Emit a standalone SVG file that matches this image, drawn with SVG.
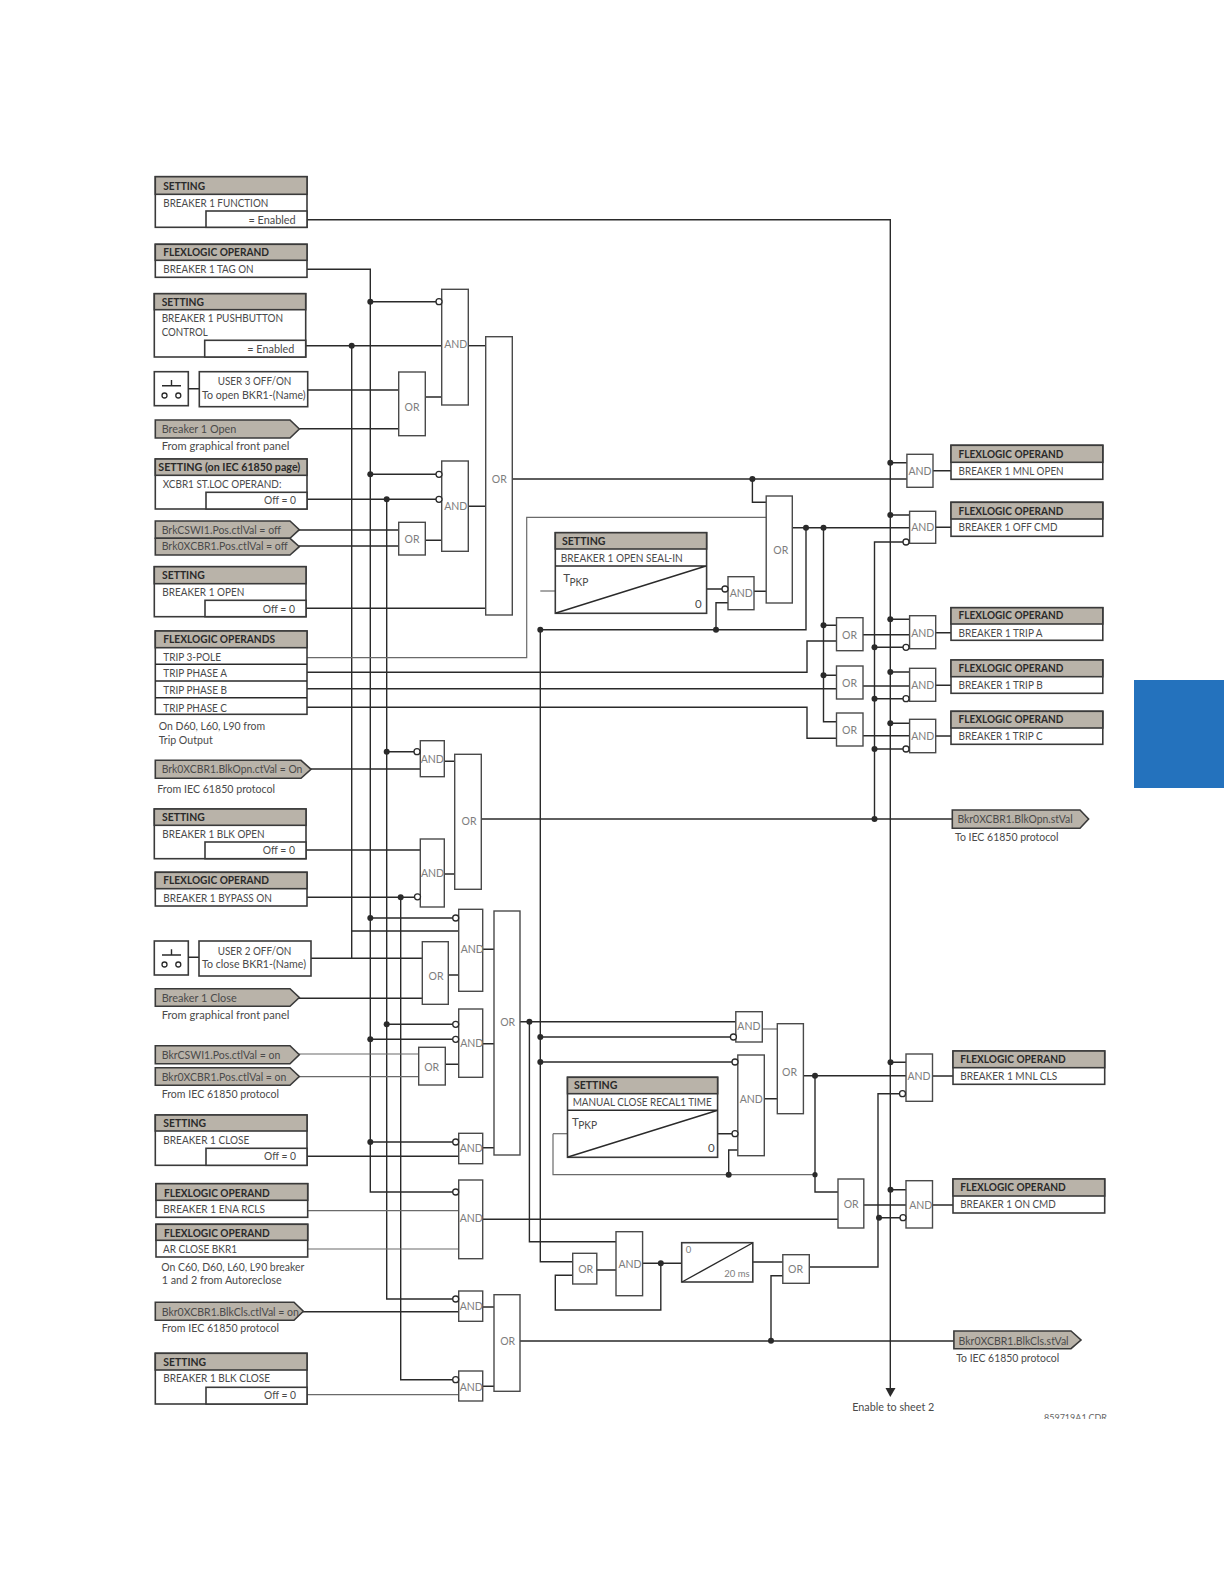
<svg xmlns="http://www.w3.org/2000/svg" width="1224" height="1584" viewBox="0 0 1224 1584">
<style>
text{font-family:Lato,"Liberation Sans",sans-serif;font-size:11.5px;fill:#4a4a4a}
.h{font-weight:700;fill:#2a2a2a}
.g{font-size:10.5px;fill:#7d7d7d;text-anchor:middle}
.b{fill:#fff;stroke:#3a3a3a;stroke-width:1.6}
.hd{fill:#b9b3a9;stroke:#3a3a3a;stroke-width:1.6}
.gate{fill:#fff;stroke:#4a4a4a;stroke-width:1.4}
.w{fill:none;stroke:#2a2a2a;stroke-width:1.4}
.l{fill:none;stroke:#6a6a6a;stroke-width:1.2}
.d{fill:#2a2a2a}
.c{fill:#fff;stroke:#2a2a2a;stroke-width:1.3}
</style>
<defs><clipPath id="cdr"><rect x="1030" y="1405" width="77" height="14"/></clipPath></defs>
<rect id="page-tab" x="1134" y="680" width="90" height="108" fill="#2472bd"/>

<g id="connectors">
<path class="w" d="M307 219.7H890.3V1390"/>
<path class="d" d="M885.5 1388H895.5L890.3 1397Z"/>
<path class="w" d="M307 269.3H370.3V1192H458.7"/>
<path class="w" d="M370.3 301.7H441.7M370.3 474.3H441.7M370.3 918H458.7M370.3 1039.3H458.7M370.3 1142H458.7"/>
<path class="w" d="M305.7 345.7H441.7M351.7 345.7V958.3M351.7 931H458.7"/>
<path class="w" d="M468.3 345.7H485.7"/>
<path class="w" d="M307.7 390H398.7M299.3 428.7H398.7M425.3 397H441.7"/>
<path class="w" d="M307 499.3H441.7M386.7 499.3V1299H458.7M386.7 751.7H420.3M386.7 1024.3H458.7"/>
<path class="w" d="M299 530H398.7M299 546H398.7M425.3 540.3H441.7M468.3 506.3H485.7M306 608.3H485.7"/>
<path class="w" d="M512.3 479H906.9M752.4 479V502.3H766.2"/>
<path class="l" d="M307 657.7H526.7V517.3H766.2"/>
<path class="w" d="M792.3 527.7H909.6M806 527.7V629.7H540.3M823.5 527.7V721.7H836.5M823.5 625.3H836.5M823.5 675.3H836.5"/>
<path class="w" d="M307 672.3H807V641H836.5M307 688.7H836.5M307 707.3H807V738.3H836.5"/>
<path class="w" d="M863 634.7H909.6M863 686H909.6M863 735.7H909.6"/>
<path class="w" d="M890.3 462.7H906.9M890.3 515H909.6M890.3 619.3H909.6M890.3 672H909.6M890.3 723.3H909.6"/>
<path class="w" d="M933 470.7H951M935.7 527.3H951M935.7 632.7H951M935.7 685.3H951M935.7 736H951"/>
<path class="w" d="M909.6 542H874.5V819M874.5 647.3H909.6M874.5 698.7H909.6M874.5 749H909.6"/>
<path class="w" d="M481.3 819H952.3"/>
<path class="w" d="M540.3 629.7V1261.7H572.7M540.3 1037H735.8M540.3 1062H737.8"/>
<path class="l" d="M540.3 591H555.3"/>
<path class="w" d="M706.6 589H728M716 629.7V602.7H728M754 591.3H766.2"/>
<path class="w" d="M311 769H420.3M444.3 761.3H454.7M306 850H420.3M307 897.3H420.3M400.7 897.3V1379.7H458.7M444.3 874H454.7"/>
<path class="w" d="M311 958.3H422.3M299 998.3H422.3M448.3 975H458.7M482.7 949.3H494"/>
<path class="l" d="M299 1054H418.7M299 1076.7H418.7"/>
<path class="w" d="M445.3 1064.3H458.7M482.7 1043.7H494M306 1156.3H458.7M482.7 1147.7H494"/>
<path class="l" d="M307 1210.7H458.7M307 1249H458.7"/>
<path class="w" d="M303 1311.7H458.7M482.7 1307H494M482.7 1386.3H494"/>
<path class="l" d="M307 1394.7H458.7"/>
<path class="w" d="M482.7 1219.3H838"/>
<path class="w" d="M520 1021.7H735.8M529.4 1021.7V1241.7H616"/>
<path class="l" d="M762.3 1029H777.3"/>
<path class="w" d="M764.3 1098.7H777.3M803.4 1075.7H906M815 1075.7V1192H838"/>
<path class="l" d="M553 1133.7H567.5"/>
<path class="l" d="M553 1133.7V1174.7H815"/>
<path class="w" d="M717.6 1133.7H737.8M728.7 1174.7V1150H737.8"/>
<path class="w" d="M932.5 1076H953M932.5 1205H953M890.5 1062.3H906M890.5 1189.7H906M863.8 1205H906"/>
<path class="w" d="M906 1093.7H878V1267H809.3M878 1217.7H906"/>
<path class="w" d="M596.8 1270H616M642.6 1263.3H681.7M660.8 1263.3V1310H555.3V1275.3H572.7M752.8 1262H782.8"/>
<path class="w" d="M520 1341H953.9M771 1340.7V1275.7H782.8"/>
<g>
<circle class="d" cx="370.3" cy="301.7" r="3"/><circle class="d" cx="351.7" cy="345.7" r="3"/><circle class="d" cx="370.3" cy="474.3" r="3"/><circle class="d" cx="386.7" cy="499.3" r="3"/>
<circle class="d" cx="386.7" cy="751.7" r="3"/><circle class="d" cx="400.7" cy="897.3" r="3"/><circle class="d" cx="370.3" cy="918" r="3"/><circle class="d" cx="386.7" cy="1024.3" r="3"/><circle class="d" cx="370.3" cy="1039.3" r="3"/><circle class="d" cx="370.3" cy="1142" r="3"/>
<circle class="d" cx="752.4" cy="479" r="3"/><circle class="d" cx="806" cy="527.7" r="3"/><circle class="d" cx="823.5" cy="527.7" r="3"/><circle class="d" cx="540.3" cy="629.7" r="3"/><circle class="d" cx="716" cy="629.7" r="3"/><circle class="d" cx="823.5" cy="625.3" r="3"/><circle class="d" cx="823.5" cy="675.3" r="3"/>
<circle class="d" cx="890.3" cy="462.7" r="3"/><circle class="d" cx="890.3" cy="515" r="3"/><circle class="d" cx="890.3" cy="619.3" r="3"/><circle class="d" cx="890.3" cy="672" r="3"/><circle class="d" cx="890.3" cy="723.3" r="3"/>
<circle class="d" cx="874.5" cy="647.3" r="3"/><circle class="d" cx="874.5" cy="698.7" r="3"/><circle class="d" cx="874.5" cy="749" r="3"/><circle class="d" cx="874.5" cy="819" r="3"/>
<circle class="d" cx="529.4" cy="1021.7" r="3"/><circle class="d" cx="540.3" cy="1037" r="3"/><circle class="d" cx="540.3" cy="1062" r="3"/><circle class="d" cx="815" cy="1075.7" r="3"/><circle class="d" cx="815" cy="1174.7" r="2.6"/><circle class="d" cx="728.7" cy="1174.7" r="3"/>
<circle class="d" cx="890.5" cy="1062.3" r="3"/><circle class="d" cx="890.5" cy="1189.7" r="3"/><circle class="d" cx="879" cy="1217.7" r="3"/><circle class="d" cx="660.8" cy="1263.3" r="3"/><circle class="d" cx="771" cy="1340.7" r="3"/>
</g>
</g>

<g id="setting-function"><rect class="b" x="155.3" y="176.7" width="151.7" height="50.6"/><rect class="hd" x="155.3" y="176.7" width="151.7" height="17.6"/><rect class="b" x="206" y="211" width="101" height="16.3"/>
<text class="h" x="163.3" y="190" textLength="41.7" lengthAdjust="spacingAndGlyphs">SETTING</text><text x="163.3" y="206.7" textLength="105" lengthAdjust="spacingAndGlyphs">BREAKER 1 FUNCTION</text><text x="248.4" y="224" textLength="47.3" lengthAdjust="spacingAndGlyphs">= Enabled</text></g>

<g id="flex-tag-on"><rect class="b" x="155.3" y="244.3" width="151.7" height="33"/><rect class="hd" x="155.3" y="244.3" width="151.7" height="16"/>
<text class="h" x="163.3" y="256" textLength="105.7" lengthAdjust="spacingAndGlyphs">FLEXLOGIC OPERAND</text><text x="163.3" y="273.3" textLength="90.3" lengthAdjust="spacingAndGlyphs">BREAKER 1 TAG ON</text></g>

<g id="setting-pushbutton"><rect class="b" x="154.3" y="293.7" width="151.4" height="63.3"/><rect class="hd" x="154.3" y="293.7" width="151.4" height="16"/><rect class="b" x="204.7" y="340.3" width="101" height="16.7"/>
<text class="h" x="161.7" y="305.7" textLength="42.3" lengthAdjust="spacingAndGlyphs">SETTING</text><text x="161.7" y="322.3" textLength="121.3" lengthAdjust="spacingAndGlyphs">BREAKER 1 PUSHBUTTON</text><text x="161.7" y="336" textLength="46" lengthAdjust="spacingAndGlyphs">CONTROL</text><text x="247.3" y="352.7" textLength="47" lengthAdjust="spacingAndGlyphs">= Enabled</text></g>

<g id="button-user3"><rect class="b" x="154.3" y="371.7" width="34" height="34"/><path class="w" d="M162 385.8H181M171.5 380V385.8M188.3 388.7H199.3"/><circle class="c" cx="164.5" cy="395.5" r="2.5"/><circle class="c" cx="178.3" cy="395.5" r="2.5"/>
<rect class="b" x="199.3" y="371.7" width="108.4" height="35"/><text x="217.7" y="385.3" textLength="73.7" lengthAdjust="spacingAndGlyphs">USER 3 OFF/ON</text><text x="202" y="399.3" textLength="103.7" lengthAdjust="spacingAndGlyphs">To open BKR1-(Name)</text></g>

<g id="breaker-open"><path class="hd" d="M155.3 420H290L299.3 429L290 438H155.3Z"/><text x="161.7" y="432.7" textLength="74.7" lengthAdjust="spacingAndGlyphs">Breaker 1 Open</text><text x="161.7" y="450" textLength="127.7" lengthAdjust="spacingAndGlyphs">From graphical front panel</text></g>

<g id="setting-iec"><rect class="b" x="155.3" y="459" width="151.7" height="50"/><rect class="hd" x="155.3" y="459" width="151.7" height="16.3"/><rect class="b" x="206" y="492.3" width="101" height="16.7"/>
<text class="h" x="158.3" y="471" textLength="142" lengthAdjust="spacingAndGlyphs">SETTING (on IEC 61850 page)</text><text x="162.7" y="488.3" textLength="118.7" lengthAdjust="spacingAndGlyphs">XCBR1 ST.LOC OPERAND:</text><text x="264" y="504.3" textLength="32" lengthAdjust="spacingAndGlyphs">Off = 0</text></g>

<g id="brkcswi-off"><path class="hd" d="M155.3 521H290L299.3 529.7L290 538.3H155.3Z"/><text x="161.7" y="534" textLength="119.3" lengthAdjust="spacingAndGlyphs">BrkCSWI1.Pos.ctlVal = off</text></g>
<g id="brkxcbr-off"><path class="hd" d="M155.3 538.3H290L299.3 546.7L290 555H155.3Z"/><text x="161.7" y="550" textLength="126" lengthAdjust="spacingAndGlyphs">Brk0XCBR1.Pos.ctlVal = off</text></g>

<g id="setting-open"><rect class="b" x="154.3" y="566.7" width="151.7" height="50"/><rect class="hd" x="154.3" y="566.7" width="151.7" height="17"/><rect class="b" x="205" y="600.3" width="101" height="16.4"/>
<text class="h" x="162" y="579" textLength="42.7" lengthAdjust="spacingAndGlyphs">SETTING</text><text x="162.3" y="596" textLength="82" lengthAdjust="spacingAndGlyphs">BREAKER 1 OPEN</text><text x="262.7" y="612.7" textLength="32.3" lengthAdjust="spacingAndGlyphs">Off = 0</text></g>

<g id="flex-trip"><rect class="b" x="155.3" y="631" width="151.7" height="83.3"/><rect class="hd" x="155.3" y="631" width="151.7" height="16.7"/><path class="w" d="M155.3 664.3H307M155.3 681H307M155.3 697.7H307"/>
<text class="h" x="163.3" y="642.7" textLength="111.7" lengthAdjust="spacingAndGlyphs">FLEXLOGIC OPERANDS</text><text x="163.3" y="661.3" textLength="57.7" lengthAdjust="spacingAndGlyphs">TRIP 3-POLE</text><text x="163.3" y="677.3" textLength="63.7" lengthAdjust="spacingAndGlyphs">TRIP PHASE A</text><text x="163.3" y="694" textLength="63.7" lengthAdjust="spacingAndGlyphs">TRIP PHASE B</text><text x="163.3" y="711.7" textLength="63.7" lengthAdjust="spacingAndGlyphs">TRIP PHASE C</text>
<text x="158.7" y="730" textLength="106.3" lengthAdjust="spacingAndGlyphs">On D60, L60, L90 from</text><text x="158.7" y="744" textLength="54" lengthAdjust="spacingAndGlyphs">Trip Output</text></g>

<g id="blkopn-ctval"><path class="hd" d="M155.3 760.3H301L311 769.3L301 778.3H155.3Z"/><text x="161.7" y="773.3" textLength="140.7" lengthAdjust="spacingAndGlyphs">Brk0XCBR1.BlkOpn.ctVal = On</text><text x="157.3" y="792.7" textLength="117.7" lengthAdjust="spacingAndGlyphs">From IEC 61850 protocol</text></g>

<g id="setting-blk-open"><rect class="b" x="154.3" y="809" width="151.7" height="49.7"/><rect class="hd" x="154.3" y="809" width="151.7" height="16.3"/><rect class="b" x="205" y="842" width="101" height="16.7"/>
<text class="h" x="162" y="820.7" textLength="42.7" lengthAdjust="spacingAndGlyphs">SETTING</text><text x="162.3" y="837.7" textLength="102.3" lengthAdjust="spacingAndGlyphs">BREAKER 1 BLK OPEN</text><text x="262.7" y="854.3" textLength="32.3" lengthAdjust="spacingAndGlyphs">Off = 0</text></g>

<g id="flex-bypass"><rect class="b" x="155.3" y="872.3" width="151.7" height="33.7"/><rect class="hd" x="155.3" y="872.3" width="151.7" height="16.4"/>
<text class="h" x="163.3" y="884.3" textLength="105.7" lengthAdjust="spacingAndGlyphs">FLEXLOGIC OPERAND</text><text x="163.3" y="901.7" textLength="108.7" lengthAdjust="spacingAndGlyphs">BREAKER 1 BYPASS ON</text></g>

<g id="button-user2"><rect class="b" x="154.3" y="941" width="34" height="34"/><path class="w" d="M162 955H181M171.5 949.3V955M188.3 957.3H199"/><circle class="c" cx="164.5" cy="964.5" r="2.5"/><circle class="c" cx="178.3" cy="964.5" r="2.5"/>
<rect class="b" x="199" y="941" width="112" height="35"/><text x="217.7" y="954.7" textLength="73.7" lengthAdjust="spacingAndGlyphs">USER 2 OFF/ON</text><text x="202" y="967.7" textLength="104" lengthAdjust="spacingAndGlyphs">To close BKR1-(Name)</text></g>

<g id="breaker-close"><path class="hd" d="M155.3 988.7H290L299.3 997.5L290 1006.3H155.3Z"/><text x="161.7" y="1002.3" textLength="75" lengthAdjust="spacingAndGlyphs">Breaker 1 Close</text><text x="161.7" y="1019.3" textLength="127.7" lengthAdjust="spacingAndGlyphs">From graphical front panel</text></g>

<g id="bkrcswi-on"><path class="hd" d="M155.3 1045.7H290L299.3 1054.7L290 1063.7H155.3Z"/><text x="161.7" y="1058.7" textLength="118.7" lengthAdjust="spacingAndGlyphs">BkrCSWI1.Pos.ctlVal = on</text></g>
<g id="bkrxcbr-on"><path class="hd" d="M155.3 1067.7H290L299.3 1076.5L290 1085.3H155.3Z"/><text x="161.7" y="1080.7" textLength="124.7" lengthAdjust="spacingAndGlyphs">Bkr0XCBR1.Pos.ctlVal = on</text><text x="161.7" y="1098.3" textLength="117.3" lengthAdjust="spacingAndGlyphs">From IEC 61850 protocol</text></g>

<g id="setting-close"><rect class="b" x="155.3" y="1115" width="151.7" height="50.3"/><rect class="hd" x="155.3" y="1115" width="151.7" height="16"/><rect class="b" x="206" y="1148.3" width="101" height="17"/>
<text class="h" x="163.3" y="1127" textLength="42.7" lengthAdjust="spacingAndGlyphs">SETTING</text><text x="163.3" y="1144" textLength="86" lengthAdjust="spacingAndGlyphs">BREAKER 1 CLOSE</text><text x="264" y="1160" textLength="32" lengthAdjust="spacingAndGlyphs">Off = 0</text></g>

<g id="flex-ena-rcls"><rect class="b" x="156" y="1183.7" width="151.7" height="33.6"/><rect class="hd" x="156" y="1183.7" width="151.7" height="16.6"/>
<text class="h" x="164" y="1196.7" textLength="105.7" lengthAdjust="spacingAndGlyphs">FLEXLOGIC OPERAND</text><text x="163.3" y="1212.7" textLength="101.7" lengthAdjust="spacingAndGlyphs">BREAKER 1 ENA RCLS</text></g>

<g id="flex-ar-close"><rect class="b" x="156" y="1224.3" width="151.7" height="32.7"/><rect class="hd" x="156" y="1224.3" width="151.7" height="16"/>
<text class="h" x="164" y="1236.7" textLength="105.7" lengthAdjust="spacingAndGlyphs">FLEXLOGIC OPERAND</text><text x="163" y="1252.7" textLength="74" lengthAdjust="spacingAndGlyphs">AR CLOSE BKR1</text>
<text x="161.3" y="1270.7" textLength="143" lengthAdjust="spacingAndGlyphs">On C60, D60, L60, L90 breaker</text><text x="161.7" y="1284" textLength="120" lengthAdjust="spacingAndGlyphs">1 and 2 from Autoreclose</text></g>

<g id="blkcls-ctlval"><path class="hd" d="M155.3 1302.3H294L303.3 1311.3L294 1320.3H155.3Z"/><text x="161.7" y="1315.7" textLength="137.3" lengthAdjust="spacingAndGlyphs">Bkr0XCBR1.BlkCls.ctlVal = on</text><text x="161.7" y="1332.3" textLength="117.3" lengthAdjust="spacingAndGlyphs">From IEC 61850 protocol</text></g>

<g id="setting-blk-close"><rect class="b" x="155.3" y="1353.3" width="151.7" height="50.7"/><rect class="hd" x="155.3" y="1353.3" width="151.7" height="16.7"/><rect class="b" x="206" y="1387.3" width="101" height="16.7"/>
<text class="h" x="163.3" y="1366" textLength="42.7" lengthAdjust="spacingAndGlyphs">SETTING</text><text x="163.3" y="1382.3" textLength="106.7" lengthAdjust="spacingAndGlyphs">BREAKER 1 BLK CLOSE</text><text x="264" y="1399.3" textLength="32" lengthAdjust="spacingAndGlyphs">Off = 0</text></g>

<g id="gate-and-1"><rect class="gate" x="441.7" y="289.3" width="26.6" height="115.7"/><text class="g" x="455.7" y="348">AND</text><circle class="c" cx="439" cy="301.7" r="3"/></g>
<g id="gate-or-1"><rect class="gate" x="398.7" y="372" width="26.6" height="63.7"/><text class="g" x="412" y="410.7">OR</text></g>
<g id="gate-and-2"><rect class="gate" x="441.7" y="461" width="26.6" height="90.3"/><text class="g" x="455.7" y="510">AND</text><circle class="c" cx="439" cy="474.3" r="3"/><circle class="c" cx="439" cy="499.3" r="3"/></g>
<g id="gate-or-2"><rect class="gate" x="398.7" y="522.3" width="26.6" height="32.7"/><text class="g" x="412" y="542.7">OR</text></g>
<g id="gate-or-big-open"><rect class="gate" x="485.7" y="336.7" width="26.6" height="278.3"/><text class="g" x="499.3" y="482.7">OR</text></g>
<g id="gate-and-3"><rect class="gate" x="420.3" y="740.7" width="24" height="36"/><text class="g" x="432.3" y="763.3">AND</text><circle class="c" cx="417" cy="751.7" r="3"/></g>
<g id="gate-or-3"><rect class="gate" x="454.7" y="754.3" width="26.6" height="135"/><text class="g" x="469" y="825.3">OR</text></g>
<g id="gate-and-4"><rect class="gate" x="420.3" y="839" width="24" height="68"/><text class="g" x="432.5" y="876.7">AND</text><circle class="c" cx="417.5" cy="896.8" r="3"/></g>
<g id="gate-and-5"><rect class="gate" x="458.7" y="909.3" width="24" height="82"/><text class="g" x="472.3" y="952.7">AND</text><circle class="c" cx="455.7" cy="918" r="3"/></g>
<g id="gate-or-close"><rect class="gate" x="422.3" y="941.7" width="26" height="62.6"/><text class="g" x="436" y="980">OR</text></g>
<g id="gate-or-4"><rect class="gate" x="494" y="911" width="26" height="244"/><text class="g" x="507.7" y="1026">OR</text></g>
<g id="gate-and-6"><rect class="gate" x="458.7" y="1009" width="24" height="68.3"/><text class="g" x="471.7" y="1046.7">AND</text><circle class="c" cx="455.7" cy="1024.3" r="3"/><circle class="c" cx="455.7" cy="1039.3" r="3"/></g>
<g id="gate-or-5"><rect class="gate" x="418.7" y="1047.3" width="26.6" height="37.7"/><text class="g" x="431.7" y="1071.3">OR</text></g>
<g id="gate-and-7"><rect class="gate" x="458.7" y="1133.3" width="24" height="30.4"/><text class="g" x="471.3" y="1152">AND</text><circle class="c" cx="455.7" cy="1142" r="3"/></g>
<g id="gate-and-8"><rect class="gate" x="458.7" y="1180" width="24" height="78.7"/><text class="g" x="471.3" y="1222.3">AND</text><circle class="c" cx="455.7" cy="1192" r="3"/></g>
<g id="gate-and-9"><rect class="gate" x="458.7" y="1291" width="24" height="30.3"/><text class="g" x="471.3" y="1310">AND</text><circle class="c" cx="455.7" cy="1299" r="3"/></g>
<g id="gate-and-10"><rect class="gate" x="458.7" y="1371" width="24" height="30"/><text class="g" x="471.3" y="1390.7">AND</text><circle class="c" cx="455.7" cy="1379.7" r="3"/></g>
<g id="gate-or-6"><rect class="gate" x="494" y="1294.7" width="26" height="96.6"/><text class="g" x="507.7" y="1345">OR</text></g>

<g id="timer-seal-in"><rect class="b" x="555.3" y="532.7" width="151.3" height="80.6"/><rect class="hd" x="555.3" y="532.7" width="151.3" height="16.3"/><path class="w" d="M555.3 566H706.6M556 613L706 566"/>
<text class="h" x="562" y="545" textLength="43.5" lengthAdjust="spacingAndGlyphs">SETTING</text><text x="560.8" y="561.7" textLength="122" lengthAdjust="spacingAndGlyphs">BREAKER 1 OPEN SEAL-IN</text><text x="563.2" y="581.7" font-size="11">T</text><text x="569.5" y="585.5" textLength="19" lengthAdjust="spacingAndGlyphs">PKP</text><text x="695" y="607.7">0</text></g>
<g id="gate-and-seal"><rect class="gate" x="728" y="576.7" width="26" height="33"/><text class="g" x="741.3" y="597.3">AND</text><circle class="c" cx="725" cy="589" r="3"/></g>
<g id="gate-or-seal"><rect class="gate" x="766.2" y="496" width="26.1" height="107"/><text class="g" x="780.8" y="554.3">OR</text></g>
<g id="gate-or-a"><rect class="gate" x="836.5" y="617.7" width="26.5" height="33"/><text class="g" x="849.6" y="638.7">OR</text></g>
<g id="gate-or-b"><rect class="gate" x="836.5" y="666" width="26.5" height="33"/><text class="g" x="849.6" y="687.3">OR</text></g>
<g id="gate-or-c"><rect class="gate" x="836.5" y="713" width="26.5" height="33"/><text class="g" x="849.6" y="734.3">OR</text></g>
<g id="gate-and-mnl-open"><rect class="gate" x="906.9" y="454.3" width="26.1" height="33"/><text class="g" x="920" y="474.7">AND</text></g>
<g id="gate-and-off-cmd"><rect class="gate" x="909.6" y="511.3" width="26.1" height="32"/><text class="g" x="922.7" y="531.3">AND</text><circle class="c" cx="906" cy="542" r="3"/></g>
<g id="gate-and-trip-a"><rect class="gate" x="909.6" y="615.7" width="26.1" height="33"/><text class="g" x="922.7" y="636.7">AND</text><circle class="c" cx="906" cy="647.3" r="3"/></g>
<g id="gate-and-trip-b"><rect class="gate" x="909.6" y="668.3" width="26.1" height="33"/><text class="g" x="922.7" y="688.7">AND</text><circle class="c" cx="906" cy="698.7" r="3"/></g>
<g id="gate-and-trip-c"><rect class="gate" x="909.6" y="719.3" width="26.1" height="33.4"/><text class="g" x="922.7" y="740">AND</text><circle class="c" cx="906" cy="749" r="3"/></g>

<g id="out-mnl-open"><rect class="b" x="951" y="445.3" width="151.8" height="34"/><rect class="hd" x="951" y="445.3" width="151.8" height="17"/><text class="h" x="958.6" y="458" textLength="104.7" lengthAdjust="spacingAndGlyphs">FLEXLOGIC OPERAND</text><text x="958.6" y="474.7" textLength="105" lengthAdjust="spacingAndGlyphs">BREAKER 1 MNL OPEN</text></g>
<g id="out-off-cmd"><rect class="b" x="951" y="502.3" width="151.8" height="34"/><rect class="hd" x="951" y="502.3" width="151.8" height="16.7"/><text class="h" x="958.6" y="514.7" textLength="104.7" lengthAdjust="spacingAndGlyphs">FLEXLOGIC OPERAND</text><text x="958.6" y="531.3" textLength="98.8" lengthAdjust="spacingAndGlyphs">BREAKER 1 OFF CMD</text></g>
<g id="out-trip-a"><rect class="b" x="951" y="607.7" width="151.8" height="32.6"/><rect class="hd" x="951" y="607.7" width="151.8" height="16.3"/><text class="h" x="958.6" y="619.3" textLength="104.7" lengthAdjust="spacingAndGlyphs">FLEXLOGIC OPERAND</text><text x="958.6" y="636.7" textLength="84" lengthAdjust="spacingAndGlyphs">BREAKER 1 TRIP A</text></g>
<g id="out-trip-b"><rect class="b" x="951" y="660" width="151.8" height="33.3"/><rect class="hd" x="951" y="660" width="151.8" height="16.7"/><text class="h" x="958.6" y="672" textLength="104.7" lengthAdjust="spacingAndGlyphs">FLEXLOGIC OPERAND</text><text x="958.6" y="688.7" textLength="84" lengthAdjust="spacingAndGlyphs">BREAKER 1 TRIP B</text></g>
<g id="out-trip-c"><rect class="b" x="951" y="711.3" width="151.8" height="33"/><rect class="hd" x="951" y="711.3" width="151.8" height="16.7"/><text class="h" x="958.6" y="723" textLength="104.7" lengthAdjust="spacingAndGlyphs">FLEXLOGIC OPERAND</text><text x="958.6" y="740" textLength="84" lengthAdjust="spacingAndGlyphs">BREAKER 1 TRIP C</text></g>
<g id="out-blkopn-stval"><path class="hd" d="M952.3 810H1080L1088.6 819L1080 828.3H952.3Z"/><text x="957.4" y="823.3" textLength="115.3" lengthAdjust="spacingAndGlyphs">Bkr0XCBR1.BlkOpn.stVal</text><text x="955" y="841" textLength="103.5" lengthAdjust="spacingAndGlyphs">To IEC 61850 protocol</text></g>

<g id="gate-and-11"><rect class="gate" x="735.8" y="1011.7" width="26.5" height="30.3"/><text class="g" x="748.9" y="1030">AND</text><circle class="c" cx="733.4" cy="1037" r="3"/></g>
<g id="gate-and-12"><rect class="gate" x="737.8" y="1055" width="26.5" height="100.7"/><text class="g" x="751.2" y="1102.7">AND</text><circle class="c" cx="735" cy="1062" r="3"/><circle class="c" cx="735" cy="1133.7" r="3"/></g>
<g id="gate-or-7"><rect class="gate" x="777.3" y="1023.7" width="26.1" height="90"/><text class="g" x="789.5" y="1076.3">OR</text></g>
<g id="timer-recal"><rect class="b" x="567.5" y="1077.3" width="150.1" height="80"/><rect class="hd" x="567.5" y="1077.3" width="150.1" height="16.4"/><path class="w" d="M567.5 1110.3H717.6M568 1157L717 1110.5"/>
<text class="h" x="573.9" y="1089" textLength="43.5" lengthAdjust="spacingAndGlyphs">SETTING</text><text x="572.7" y="1106" textLength="139" lengthAdjust="spacingAndGlyphs">MANUAL CLOSE RECAL1 TIME</text><text x="571.9" y="1126">T</text><text x="578.2" y="1129" textLength="19" lengthAdjust="spacingAndGlyphs">PKP</text><text x="708" y="1151.7">0</text></g>
<g id="gate-and-13"><rect class="gate" x="906" y="1054" width="26.5" height="47.3"/><text class="g" x="919" y="1080">AND</text><circle class="c" cx="902.5" cy="1093.7" r="3"/></g>
<g id="gate-and-14"><rect class="gate" x="906" y="1180.7" width="26.5" height="47.3"/><text class="g" x="920.7" y="1209">AND</text><circle class="c" cx="903" cy="1217.7" r="3"/></g>
<g id="gate-or-8"><rect class="gate" x="838" y="1179" width="25.8" height="49"/><text class="g" x="851.2" y="1208">OR</text></g>
<g id="out-mnl-cls"><rect class="b" x="953" y="1051" width="151.7" height="33.3"/><rect class="hd" x="953" y="1051" width="151.7" height="16.7"/><text class="h" x="960.2" y="1062.7" textLength="105.5" lengthAdjust="spacingAndGlyphs">FLEXLOGIC OPERAND</text><text x="960.2" y="1080" textLength="97" lengthAdjust="spacingAndGlyphs">BREAKER 1 MNL CLS</text></g>
<g id="out-on-cmd"><rect class="b" x="953" y="1179" width="151.7" height="34"/><rect class="hd" x="953" y="1179" width="151.7" height="17"/><text class="h" x="960.2" y="1191.3" textLength="105.5" lengthAdjust="spacingAndGlyphs">FLEXLOGIC OPERAND</text><text x="960.2" y="1208.3" textLength="95.6" lengthAdjust="spacingAndGlyphs">BREAKER 1 ON CMD</text></g>
<g id="gate-or-9"><rect class="gate" x="572.7" y="1253.3" width="24.1" height="30.7"/><text class="g" x="585.7" y="1273.3">OR</text></g>
<g id="gate-and-15"><rect class="gate" x="616" y="1231.7" width="26.6" height="64"/><text class="g" x="630" y="1268">AND</text></g>
<g id="timer-20ms"><rect class="b" x="681.7" y="1242.7" width="71.1" height="39.3"/><path class="w" d="M682 1282L752.5 1243"/><text class="g" x="688.4" y="1253.3" style="font-size:9.5px">0</text><text class="g" x="737" y="1276.7" style="font-size:9.5px">20 ms</text></g>
<g id="gate-or-10"><rect class="gate" x="782.8" y="1254.7" width="26.5" height="28.6"/><text class="g" x="795.5" y="1273.3">OR</text></g>
<g id="out-blkcls-stval"><path class="hd" d="M953.9 1331H1071L1081 1340L1071 1348.7H953.9Z"/><text x="958.6" y="1344.7" textLength="110" lengthAdjust="spacingAndGlyphs">Bkr0XCBR1.BlkCls.stVal</text><text x="956.2" y="1362.3" textLength="103" lengthAdjust="spacingAndGlyphs">To IEC 61850 protocol</text></g>

<text x="852.3" y="1410.7" textLength="82" lengthAdjust="spacingAndGlyphs">Enable to sheet 2</text>
<g clip-path="url(#cdr)"><text x="1044" y="1421" textLength="63" lengthAdjust="spacingAndGlyphs" style="font-size:10px;fill:#666">859719A1.CDR</text></g>
</svg>
